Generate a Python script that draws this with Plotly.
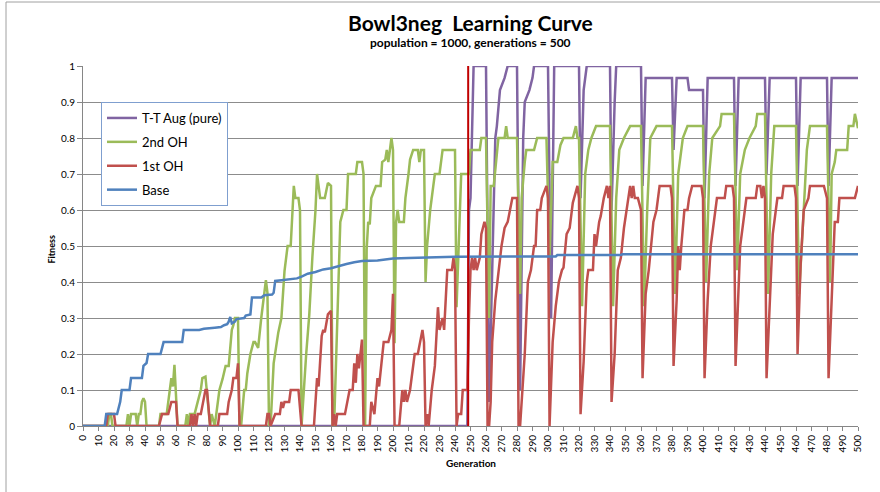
import plotly.graph_objects as go

# ---------------- data (generation, fitness) breakpoints ----------------
TITLE = "Bowl3neg  Learning Curve"
SUBTITLE = "population = 1000, generations = 500"
X_TITLE = "Generation"
Y_TITLE = "Fitness"
SERIES_NAMES = ["T-T Aug (pure)", "2nd OH", "1st OH", "Base"]
X_TICKS = list(range(0, 501, 10))
Y_TICKS = [0, 0.1, 0.2, 0.3, 0.4, 0.5, 0.6, 0.7, 0.8, 0.9, 1]
MARKER_GEN = 248.5

tt_aug = [
    (0, 0), (248, 0), (249, 0.6), (250, 0.633), (252, 1), (260, 1), (262, 0.067),
    (266, 0.8), (267, 0.833), (269, 0.933), (272, 0.967), (274, 1), (280, 1),
    (282, 0.1), (284, 0.8), (285, 0.9), (288, 0.933), (290, 0.967), (291, 1),
    (300, 1), (302, 0.3), (304, 1), (320, 1), (321, 0.633), (323, 0.933), (325, 1),
    (340, 1), (341, 0.6), (343, 0.9), (344, 1), (360, 1), (361, 0.667), (363, 0.967),
    (380, 0.967), (381, 0.767), (383, 0.967), (390, 0.967), (391, 0.933), (400, 0.933),
    (401, 0.633), (403, 0.967), (420, 0.967), (421, 0.667), (423, 0.967), (440, 0.967),
    (441, 0.7), (443, 0.967), (460, 0.967), (461, 0.667), (463, 0.967), (480, 0.967),
    (481, 0.667), (483, 0.967), (500, 0.967),
]

second_oh = [
    (0, 0), (16, 0), (17, 0.033), (18, 0.033), (19, 0), (28, 0), (29, 0.033), (30, 0),
    (31, 0.033), (34, 0.033), (35, 0), (36, 0.033), (37, 0.033), (38, 0.067), (39, 0.077),
    (40, 0.067), (41, 0), (49, 0), (50, 0.033), (54, 0.033), (56, 0.1), (57, 0.133),
    (58, 0.11), (59, 0.17), (61, 0), (66, 0), (67, 0.033), (68, 0), (69, 0.033), (72, 0.033),
    (74, 0.067), (76, 0.1), (77, 0.133), (79, 0.137), (82, 0), (83, 0.033), (85, 0),
    (88, 0.1), (90, 0.13), (92, 0.167), (94, 0.167), (96, 0.267), (97, 0.28), (98, 0.3),
    (100, 0.3), (101, 0), (102, 0), (104, 0.1), (105, 0.1), (106, 0.146), (108, 0.2),
    (110, 0.233), (111, 0.233), (113, 0.217), (115, 0.3), (117, 0.38), (118, 0.405),
    (119, 0.37), (120, 0), (121, 0), (123, 0.174), (126, 0.26), (128, 0.3), (130, 0.43),
    (132, 0.5), (134, 0.5), (135, 0.59), (136, 0.667), (137, 0.633), (139, 0.633),
    (140, 0.6), (141, 0), (144, 0.2), (146, 0.31), (148, 0.47), (150, 0.6), (151, 0.7),
    (152, 0.667), (153, 0.633), (156, 0.633), (158, 0.675), (160, 0.667), (161, 0),
    (162, 0), (164, 0.3), (166, 0.567), (168, 0.6), (170, 0.6), (171, 0.7), (176, 0.7),
    (177, 0.733), (180, 0.733), (181, 0.7), (182, 0), (183, 0.49), (184, 0.567),
    (185, 0.56), (186, 0.633), (189, 0.667), (192, 0.667), (193, 0.733), (195, 0.74),
    (196, 0.767), (197, 0.733), (199, 0.8), (200, 0.767), (201, 0.23), (202, 0.567),
    (203, 0.6), (204, 0.567), (207, 0.567), (208, 0.633), (210, 0.7), (211, 0.74),
    (213, 0.767), (216, 0.767), (217, 0.733), (218, 0.767), (220, 0.767), (221, 0.4),
    (222, 0.5), (224, 0.6), (226, 0.667), (227, 0.7), (230, 0.7), (231, 0.733),
    (232, 0.767), (240, 0.767), (241, 0.33), (244, 0.7), (249, 0.7), (250, 0.767),
    (256, 0.767), (257, 0.8), (260, 0.8), (262, 0.3), (263, 0.667), (265, 0.667),
    (267, 0.767), (268, 0.8), (272, 0.8), (273, 0.833), (274, 0.8), (280, 0.8),
    (282, 0.367), (283, 0.633), (285, 0.733), (286, 0.767), (291, 0.767), (293, 0.8),
    (299, 0.8), (301, 0.467), (303, 0.733), (306, 0.733), (308, 0.78), (310, 0.8),
    (316, 0.8), (318, 0.833), (319, 0.8), (320, 0.8), (322, 0.333), (324, 0.7),
    (326, 0.767), (328, 0.8), (331, 0.833), (340, 0.833), (342, 0.333), (344, 0.633),
    (346, 0.767), (349, 0.8), (353, 0.833), (360, 0.833), (362, 0.333), (364, 0.6),
    (366, 0.8), (370, 0.833), (380, 0.833), (382, 0.367), (384, 0.7), (386, 0.767),
    (387, 0.8), (390, 0.833), (400, 0.833), (402, 0.4), (404, 0.7), (406, 0.8),
    (411, 0.833), (412, 0.867), (420, 0.867), (422, 0.433), (424, 0.7), (427, 0.767),
    (430, 0.8), (434, 0.833), (435, 0.867), (440, 0.867), (442, 0.367), (444, 0.7),
    (446, 0.833), (460, 0.833), (462, 0.367), (465, 0.6), (467, 0.767), (469, 0.833),
    (480, 0.833), (482, 0.4), (483, 0.7), (485, 0.733), (486, 0.767), (493, 0.767),
    (494, 0.833), (497, 0.833), (498, 0.867), (500, 0.827),
]

first_oh = [
    (0, 0), (15, 0), (16, 0.033), (20, 0.033), (21, 0), (49, 0), (51, 0.033), (55, 0.033),
    (57, 0.067), (60, 0.067), (61, 0), (69, 0), (70, 0.033), (71, 0), (72, 0.033), (73, 0),
    (74, 0.033), (76, 0.033), (79, 0.1), (80, 0.1), (82, 0), (87, 0), (88, 0.033),
    (93, 0.033), (94, 0.067), (96, 0.1), (97, 0.133), (99, 0.133), (100, 0.174), (101, 0),
    (118, 0), (119, 0.033), (120, 0.033), (121, 0), (124, 0.033), (127, 0.033),
    (128, 0.067), (129, 0.05), (130, 0.067), (133, 0.067), (134, 0.1), (139, 0.1), (141, 0),
    (149, 0), (151, 0.133), (152, 0.11), (154, 0.25), (155, 0.267), (156, 0.26),
    (158, 0.31), (160, 0.32), (161, 0), (162, 0.033), (163, 0), (164, 0.033), (169, 0.033),
    (172, 0.1), (174, 0.1), (175, 0.174), (176, 0.12), (177, 0.2), (178, 0.16), (180, 0.24),
    (181, 0), (185, 0), (186, 0.067), (188, 0.033), (190, 0.133), (191, 0.11), (194, 0.233),
    (197, 0.233), (199, 0.267), (200, 0.367), (201, 0), (204, 0), (206, 0.1), (207, 0.067),
    (208, 0.1), (209, 0.067), (211, 0.1), (214, 0.2), (216, 0.2), (219, 0.267),
    (220, 0.233), (221, 0), (222, 0.033), (223, 0), (225, 0.1), (227, 0.167), (229, 0.33),
    (230, 0.267), (232, 0.3), (233, 0.267), (235, 0.433), (238, 0.433), (239, 0.467),
    (240, 0.433), (241, 0), (242, 0.033), (244, 0.033), (245, 0.1), (248, 0.1), (249, 0.3),
    (250, 0.433), (251, 0.467), (252, 0.433), (253, 0.467), (254, 0.433), (256, 0.467),
    (257, 0.533), (259, 0.567), (260, 0.55), (261, 0), (262, 0), (263, 0.067),
    (264, 0.233), (266, 0.35), (268, 0.433), (270, 0.5), (272, 0.55), (274, 0.567),
    (277, 0.633), (280, 0.633), (281, 0), (282, 0), (285, 0.2), (287, 0.4), (289, 0.433),
    (291, 0.5), (292, 0.5), (293, 0.6), (295, 0.6), (296, 0.633), (299, 0.667),
    (300, 0.633), (301, 0), (303, 0.233), (305, 0.333), (307, 0.4), (309, 0.433),
    (310, 0.44), (312, 0.533), (314, 0.55), (316, 0.62), (318, 0.65), (319, 0.667),
    (320, 0.633), (321, 0.033), (323, 0.18), (325, 0.4), (326, 0.433), (329, 0.433),
    (330, 0.533), (331, 0.5), (333, 0.567), (334, 0.583), (336, 0.633), (338, 0.667),
    (339, 0.633), (340, 0.667), (341, 0.067), (343, 0.2), (345, 0.433), (347, 0.467),
    (349, 0.55), (352, 0.633), (353, 0.667), (354, 0.633), (355, 0.667), (356, 0.633),
    (358, 0.633), (360, 0.6), (361, 0.133), (363, 0.367), (365, 0.433), (368, 0.567),
    (370, 0.6), (372, 0.667), (379, 0.667), (380, 0.633), (381, 0.167), (383, 0.35),
    (384, 0.5), (385, 0.433), (386, 0.5), (388, 0.6), (390, 0.6), (391, 0.633),
    (393, 0.667), (399, 0.667), (400, 0.633), (401, 0.133), (403, 0.35), (405, 0.5),
    (408, 0.6), (409, 0.633), (414, 0.633), (415, 0.667), (419, 0.667), (420, 0.633),
    (421, 0.167), (424, 0.5), (427, 0.6), (428, 0.633), (434, 0.633), (435, 0.667),
    (437, 0.667), (438, 0.633), (439, 0.667), (440, 0.633), (441, 0.133), (443, 0.35),
    (445, 0.533), (447, 0.6), (448, 0.633), (451, 0.633), (452, 0.667), (459, 0.667),
    (460, 0.633), (461, 0.2), (463, 0.45), (465, 0.6), (468, 0.633), (469, 0.667),
    (478, 0.667), (480, 0.633), (481, 0.133), (483, 0.35), (485, 0.567), (487, 0.567),
    (488, 0.633), (498, 0.633), (500, 0.667),
]

base = [
    (0, 0), (14, 0), (15, 0.033), (22, 0.033), (24, 0.067), (25, 0.1), (30, 0.1),
    (31, 0.133), (38, 0.133), (39, 0.167), (41, 0.175), (42, 0.2), (50, 0.2), (52, 0.233),
    (64, 0.233), (65, 0.267), (75, 0.267), (78, 0.27), (85, 0.273), (89, 0.275),
    (91, 0.28), (93, 0.283), (94, 0.29), (95, 0.303), (96, 0.285), (98, 0.29),
    (99, 0.297), (104, 0.3), (105, 0.307), (108, 0.31), (109, 0.357), (115, 0.357),
    (117, 0.363), (122, 0.365), (123, 0.37), (124, 0.403), (128, 0.405), (138, 0.41),
    (141, 0.415), (145, 0.423), (150, 0.428), (155, 0.435), (160, 0.438), (165, 0.445),
    (170, 0.45), (175, 0.455), (180, 0.458), (190, 0.46), (200, 0.465), (210, 0.467),
    (220, 0.468), (240, 0.47), (305, 0.471), (306, 0.475), (347, 0.475), (348, 0.477),
    (500, 0.477),
]

COLORS = ["#8064A2", "#9BBB59", "#C0504D", "#4F81BD"]
FONT = "Lato, 'Open Sans', sans-serif"

fig = go.Figure()
for name, series, color in zip(SERIES_NAMES, [tt_aug, second_oh, first_oh, base], COLORS):
    xs = [p[0] for p in series]
    ys = [p[1] for p in series]
    fig.add_trace(go.Scatter(
        x=xs, y=ys, mode="lines", name=name, legendgroup=name,
        line=dict(color=color, width=2.5), hoverinfo="skip",
    ))

fig.add_shape(type="line", xref="x", yref="y", x0=MARKER_GEN, x1=MARKER_GEN, y0=0, y1=1,
              line=dict(color="#C00000", width=2), layer="above")

# chart-area border (left / top visible)
fig.add_shape(type="rect", xref="paper", yref="paper",
              x0=(6 - 83) / 775, x1=1.2, y0=(426 - 2) / 360, y1=-0.5,
              line=dict(color="#A0A0A0", width=1), fillcolor="rgba(0,0,0,0)", layer="below")

fig.update_layout(
    width=880, height=492,
    margin=dict(l=83, r=22, t=66, b=66),
    paper_bgcolor="white", plot_bgcolor="white",
    font=dict(family=FONT, color="#000000"),
    showlegend=True,
    legend=dict(
        x=(101 - 83) / 775, y=(426 - 102) / 360, xanchor="left", yanchor="top",
        bgcolor="white", bordercolor="#7F9FCF", borderwidth=1,
        font=dict(size=13, family=FONT), tracegroupgap=4, itemwidth=30,
        traceorder="grouped",
    ),
    annotations=[
        dict(text="<b>" + TITLE + "</b>", xref="paper", yref="paper",
             x=0.5, y=(426 - 23) / 360, xanchor="center", yanchor="middle",
             showarrow=False, font=dict(size=21, family=FONT)),
        dict(text="<b>" + SUBTITLE + "</b>", xref="paper", yref="paper",
             x=0.5, y=(426 - 42) / 360, xanchor="center", yanchor="middle",
             showarrow=False, font=dict(size=12, family=FONT)),
        dict(text="<b>" + X_TITLE + "</b>", xref="paper", yref="paper",
             x=0.5, y=(426 - 463) / 360, xanchor="center", yanchor="middle",
             showarrow=False, font=dict(size=10, family=FONT)),
        dict(text="<b>" + Y_TITLE + "</b>", xref="paper", yref="paper",
             x=(52 - 83) / 775, y=0.49, xanchor="center", yanchor="middle",
             textangle=-90, showarrow=False, font=dict(size=9, family=FONT)),
    ],
)

fig.update_xaxes(
    range=[0, 500], tickmode="array", tickvals=X_TICKS, ticktext=[str(t) for t in X_TICKS],
    tickangle=-90, tickfont=dict(size=10, family=FONT),
    ticks="outside", ticklen=4, tickcolor="#868686",
    showline=True, linecolor="#868686", linewidth=1,
    showgrid=False, zeroline=False, fixedrange=True,
)
fig.update_yaxes(
    range=[0, 1], tickmode="array", tickvals=Y_TICKS, ticktext=[str(t) for t in Y_TICKS],
    tickfont=dict(size=10, family=FONT),
    ticks="outside", ticklen=5, tickcolor="#868686",
    showline=True, linecolor="#868686", linewidth=1,
    showgrid=True, gridcolor="#8C8C8C", gridwidth=1, zeroline=False, fixedrange=True,
)

fig.write_html("out.html", config={"displayModeBar": False, "staticPlot": True},
               post_script="document.body.style.margin='0px';")
